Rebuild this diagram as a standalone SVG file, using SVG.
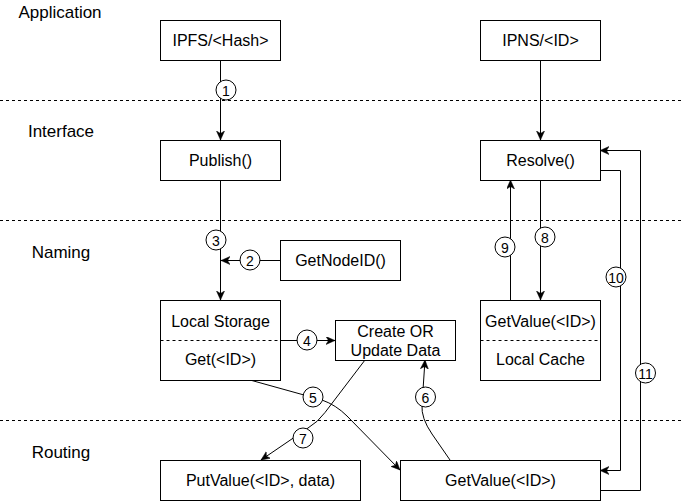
<svg xmlns="http://www.w3.org/2000/svg" width="682" height="501" viewBox="0 0 682 501">
<style>
text{font-family:"Liberation Sans",Arial,sans-serif;fill:#000}
.lbl{font-size:17px;text-anchor:middle}
.t{font-size:16px;text-anchor:middle;dominant-baseline:central}
.n{font-size:14px;text-anchor:middle;dominant-baseline:central}
.box{fill:#fff;stroke:#000;stroke-width:1}
.dash{stroke:#000;stroke-width:1;stroke-dasharray:3 3;fill:none}
.e{fill:none;stroke:#000;stroke-width:1;marker-end:url(#ar)}
.c{fill:#fff;stroke:#000;stroke-width:1}
</style>
<defs>
<marker id="ar" markerUnits="userSpaceOnUse" markerWidth="12" markerHeight="12" refX="9" refY="4" orient="auto">
<path d="M0,0 L9,4 L0,8 L2.5,4 Z" fill="#000" stroke="#000" stroke-width="0.5"/>
</marker>
</defs>
<rect width="682" height="501" fill="#fff"/>
<g id="layers">
<line class="dash" x1="0" y1="100.5" x2="682" y2="100.5"/>
<line class="dash" x1="0" y1="220.5" x2="682" y2="220.5"/>
<line class="dash" x1="0" y1="420.5" x2="682" y2="420.5"/>
<text class="lbl" x="60" y="18">Application</text>
<text class="lbl" x="61" y="137">Interface</text>
<text class="lbl" x="61" y="258">Naming</text>
<text class="lbl" x="61" y="458">Routing</text>
</g>
<g id="connectors">
<path class="e" d="M220.5,60 L220.5,140"/>
<path class="e" d="M540.5,60 L540.5,140"/>
<path class="e" d="M220.5,180 L220.5,300"/>
<path class="e" d="M280,260.5 L221,260.5"/>
<path class="e" d="M280,340.5 L335,340.5"/>
<path class="e" d="M540.5,180 L540.5,300"/>
<path class="e" d="M510.5,300 L510.5,180"/>
<path class="e" d="M600,170.5 L620.5,170.5 L620.5,470.5 L600,470.5"/>
<path class="e" d="M600,490.5 L640.5,490.5 L640.5,150.5 L600,150.5"/>
<path class="e" d="M250,380 L322,400 Q336,405 347,416 L400,470"/>
<path class="e" d="M450,460 L432,434 Q421,418 422,405 L425,360"/>
<path class="e" d="M365,360 L325,412.5 Q318,422 308,428 L261,460"/>
</g>
<g id="n1"><rect class="box" x="160.5" y="20.5" width="120" height="40"/><text class="t" x="220.5" y="40.5">IPFS/&lt;Hash&gt;</text></g>
<g id="n2"><rect class="box" x="480.5" y="20.5" width="120" height="40"/><text class="t" x="540.5" y="40.5">IPNS/&lt;ID&gt;</text></g>
<g id="n3"><rect class="box" x="160.5" y="140.5" width="120" height="40"/><text class="t" x="220.5" y="160.5">Publish()</text></g>
<g id="n4"><rect class="box" x="480.5" y="140.5" width="120" height="40"/><text class="t" x="540.5" y="160.5">Resolve()</text></g>
<g id="n5"><rect class="box" x="280.5" y="240.5" width="120" height="40"/><text class="t" x="340.5" y="260.5">GetNodeID()</text></g>
<g id="n6"><rect class="box" x="160.5" y="300.5" width="120" height="80"/><line class="dash" x1="160.5" y1="340.5" x2="280.5" y2="340.5"/><text class="t" x="220.5" y="321">Local Storage</text><text class="t" x="220.5" y="359">Get(&lt;ID&gt;)</text></g>
<g id="n7"><rect class="box" x="335.5" y="320.5" width="120" height="40"/><text class="t" x="395.5" y="331">Create OR</text><text class="t" x="395.5" y="350">Update Data</text></g>
<g id="n8"><rect class="box" x="480.5" y="300.5" width="120" height="80"/><line class="dash" x1="480.5" y1="340.5" x2="600.5" y2="340.5"/><text class="t" x="540.5" y="321">GetValue(&lt;ID&gt;)</text><text class="t" x="540.5" y="359">Local Cache</text></g>
<g id="n9"><rect class="box" x="160.5" y="460.5" width="200" height="40"/><text class="t" x="260.5" y="480.5">PutValue(&lt;ID&gt;, data)</text></g>
<g id="n10"><rect class="box" x="400.5" y="460.5" width="200" height="40"/><text class="t" x="500.5" y="480.5">GetValue(&lt;ID&gt;)</text></g>
<g id="labels">
<circle class="c" cx="226" cy="90" r="10"/><text class="n" x="226" y="90.5">1</text>
<circle class="c" cx="250" cy="260" r="10"/><text class="n" x="250" y="260.5">2</text>
<circle class="c" cx="216" cy="240" r="10"/><text class="n" x="216" y="240.5">3</text>
<circle class="c" cx="307" cy="340" r="10"/><text class="n" x="307" y="340.5">4</text>
<circle class="c" cx="313" cy="397" r="10"/><text class="n" x="313" y="397.5">5</text>
<circle class="c" cx="425.5" cy="397" r="10"/><text class="n" x="425.5" y="397.5">6</text>
<circle class="c" cx="303" cy="438" r="10"/><text class="n" x="303" y="438.5">7</text>
<circle class="c" cx="545" cy="237" r="10"/><text class="n" x="545" y="237.5">8</text>
<circle class="c" cx="505" cy="247" r="10"/><text class="n" x="505" y="247.5">9</text>
<circle class="c" cx="616" cy="277" r="10"/><text class="n" x="616" y="277.5">10</text>
<circle class="c" cx="645.5" cy="373" r="10"/><text class="n" x="645.5" y="373.5">11</text>
</g>
</svg>
